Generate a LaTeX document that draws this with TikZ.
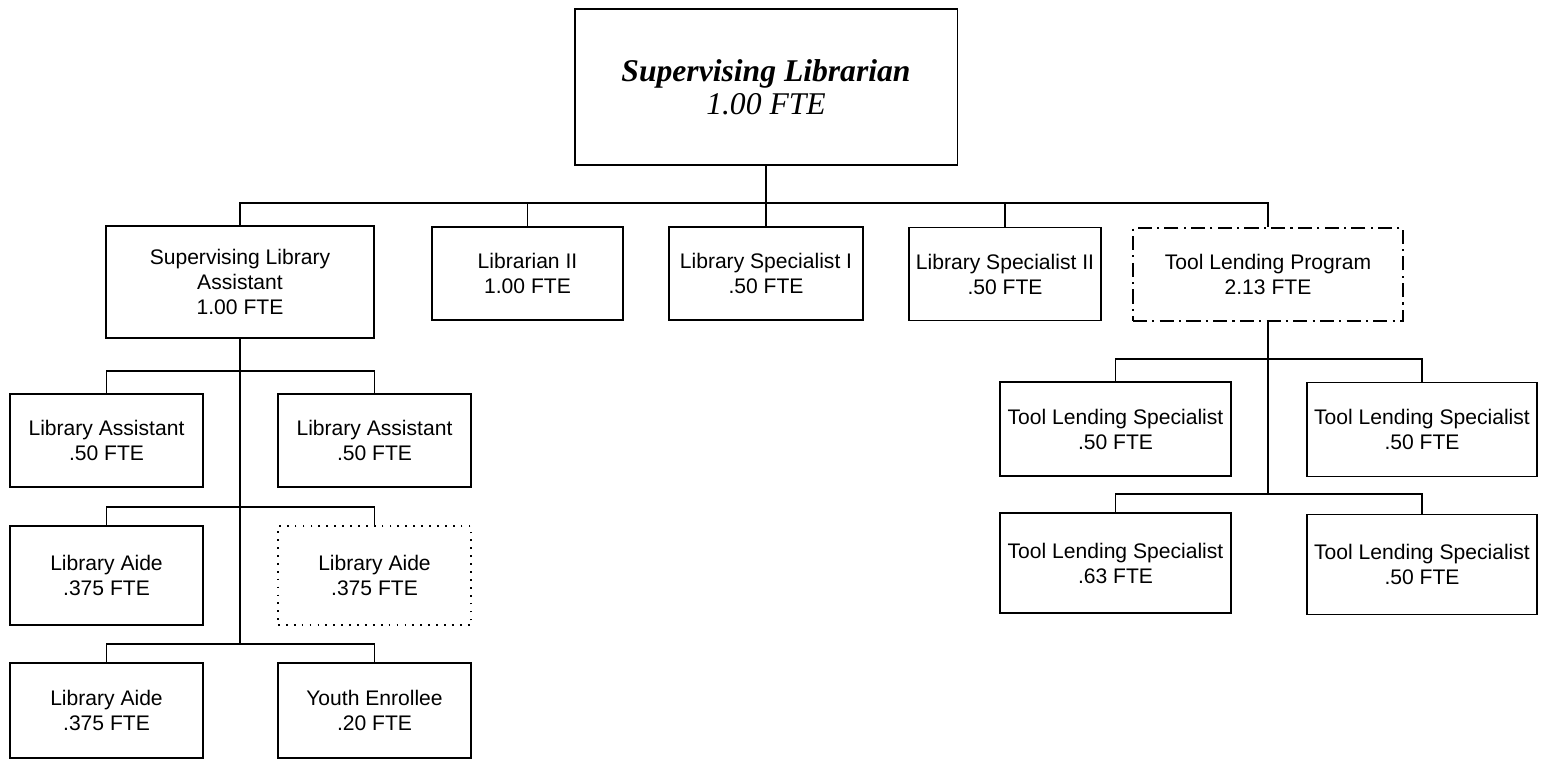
\documentclass[tikz,border=0pt]{standalone}
\usepackage{fontspec}
\setmainfont{Liberation Sans}
\newfontfamily\headfont{Liberation Serif}

\begin{document}
\begin{tikzpicture}[x=0.02cm, y=-0.02cm,
  every node/.style={font=\fontsize{12}{14.2}\selectfont, align=center, inner sep=1pt},
  post/.style={draw, line width=0.75pt, minimum width=3.86cm, minimum height=1.86cm},
  link/.style={line width=0.6pt}]
  \useasboundingbox (0,0) rectangle (1546,759);
  \node[post, line width=1.1pt, minimum width=7.66cm, minimum height=3.12cm,
    font=\headfont\fontsize{18}{18.7}\selectfont] (head) at (766,87)
    {{\bfseries\itshape Supervising Librarian}\\{\itshape 1.00 FTE}};
  % first level
  \node[post, minimum width=5.36cm, minimum height=2.24cm] (sla) at (240,282)
    {Supervising Library\\Assistant\\1.00 FTE};
  \node[post, minimum width=3.82cm] (lib2) at (527.5,273.5) {Librarian II\\1.00 FTE};
  \node[post, minimum width=3.88cm] (spec1) at (766,273.5) {Library Specialist I\\.50 FTE};
  \node[post, minimum width=3.84cm] (spec2) at (1005,274) {Library Specialist II\\.50 FTE};
  \node[post, dash pattern=on 8pt off 3pt on 1.2pt off 3pt, minimum width=5.40cm] (tlp)
    at (1268,274.5) {Tool Lending Program\\2.13 FTE};
  % under the supervising library assistant
  \node[post] (asst1) at (106.5,440.5) {Library Assistant\\.50 FTE};
  \node[post] (asst2) at (374.5,440.5) {Library Assistant\\.50 FTE};
  \node[post, minimum height=1.98cm] (aide1) at (106.5,575.5) {Library Aide\\.375 FTE};
  \node[post, line width=1pt, dash pattern=on 1pt off 3.5pt, minimum height=1.98cm] (aide2)
    at (374.5,575.5) {Library Aide\\.375 FTE};
  \node[post, minimum height=1.90cm] (aide3) at (106.5,710.5) {Library Aide\\.375 FTE};
  \node[post, minimum height=1.90cm] (youth) at (374.5,710.5) {Youth Enrollee\\.20 FTE};
  % under the tool lending program
  \node[post, minimum width=4.62cm, minimum height=1.88cm] (tls1) at (1115.5,429)
    {Tool Lending Specialist\\.50 FTE};
  \node[post, minimum width=4.60cm, minimum height=1.88cm] (tls2) at (1422,429.5)
    {Tool Lending Specialist\\.50 FTE};
  \node[post, minimum width=4.62cm, minimum height=2.0cm] (tls3) at (1115.5,563)
    {Tool Lending Specialist\\.63 FTE};
  \node[post, minimum width=4.60cm, minimum height=2.0cm] (tls4) at (1422,564.5)
    {Tool Lending Specialist\\.50 FTE};
  \coordinate (topbus) at (766,203);
  \coordinate (asstbus) at (240,371);
  \coordinate (aidebus) at (240,507);
  \coordinate (youthbus) at (240,644);
  \coordinate (tlsbusA) at (1268,359);
  \coordinate (tlsbusB) at (1268,494);
  \draw[link, line width=1pt] (head.south) -- (spec1.north);
  \draw[link] (sla.north) |- (topbus) -| (tlp.north);
  \draw[link] (lib2.north) -- (lib2.north |- topbus);
  \draw[link] (spec2.north) -- (spec2.north |- topbus);
  \draw[link] (sla.south) -- (youthbus);
  \draw[link] (asst1.north) |- (asstbus) -| (asst2.north);
  \draw[link] (aide1.north) |- (aidebus) -| (aide2.north);
  \draw[link] (aide3.north) |- (youthbus) -| (youth.north);
  \draw[link] (tlp.south) -- (tlsbusB);
  \draw[link] (tls1.north) |- (tlsbusA) -| (tls2.north);
  \draw[link] (tls3.north) |- (tlsbusB) -| (tls4.north);
\end{tikzpicture}
\end{document}
